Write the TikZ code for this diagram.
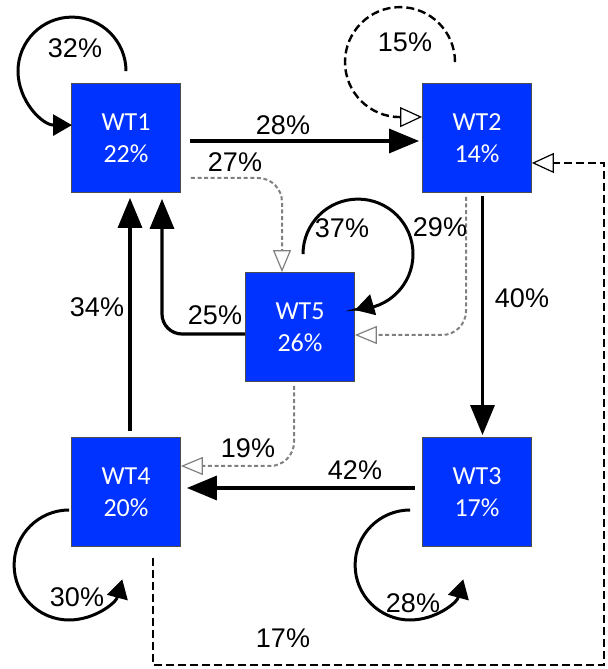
\documentclass[tikz,border=0pt]{standalone}
\usepackage{fontspec}
\setmainfont{Carlito}
\newfontfamily\labelfont{Liberation Sans}
\usetikzlibrary{arrows.meta}
\definecolor{wtblue}{RGB}{0,51,255}

\begin{document}
\begin{tikzpicture}[x=0.5pt,y=0.5pt,
    box/.style={draw=black!70,fill=wtblue,text=white,minimum size=54.5pt,inner sep=0pt,
        align=center,font=\fontsize{13}{16}\selectfont},
    pct/.style={font=\labelfont\fontsize{13.5}{16}\selectfont,inner sep=0pt},
    flow/.style={line width=1.6pt,-{Triangle[length=15pt,width=12pt]}},
    selfloop/.style={line width=1.5pt,-{Triangle[length=9.5pt,width=10.5pt]}},
    hint/.style={black!50,line width=1pt,dash pattern=on 2pt off 1.3pt,rounded corners=12pt,
        -{Triangle[open,length=11pt,width=9pt,line width=0.6pt]}},
    back/.style={line width=1.2pt,dash pattern=on 4pt off 2pt,
        -{Triangle[open,length=11pt,width=10pt,line width=0.6pt]}}]
    \useasboundingbox (0,0) rectangle (607,669);

    %% wells
    \node (wt1) at (126,531) [box] {WT1\\22\%};
    \node (wt2) at (477,531) [box] {WT2\\14\%};
    \node (wt5) at (300,342) [box] {WT5\\26\%};
    \node (wt4) at (126,177) [box] {WT4\\20\%};
    \node (wt3) at (477,177) [box] {WT3\\17\%};
    \coordinate (rim) at (604,4);

    %% self loops
    \draw[selfloop] ([yshift=6pt]wt1.north) arc[start angle=0,end angle=270,radius=27pt];
    \draw[back] ([xshift=-11pt,yshift=10.5pt]wt2.north) arc[start angle=0,end angle=270,radius=27.5pt]
        -- ([yshift=10.5pt]wt2.west);
    \draw[selfloop] ([xshift=1.5pt,yshift=9pt]wt5.north) arc[start angle=180,end angle=-90,radius=27.5pt]
        -- ([yshift=8.5pt]wt5.east);
    \draw[selfloop] ([xshift=-6pt,yshift=-9pt]wt3.west) arc[start angle=90,end angle=345,radius=27.5pt];
    \draw[selfloop] ([xshift=-1pt,yshift=-9pt]wt4.west) arc[start angle=90,end angle=345,radius=27.5pt];

    %% solid flows
    \draw[flow,shorten <=4.5pt,shorten >=1.5pt] ([yshift=-1.5pt]wt1.east) -- ([yshift=-1.5pt]wt2.west);
    \draw[flow,shorten <=1.5pt,shorten >=1pt] ([xshift=2.75pt]wt2.south) -- ([xshift=2.75pt]wt3.north);
    \draw[flow,shorten <=3.5pt,shorten >=3pt] ([yshift=2pt]wt3.west) -- ([yshift=2pt]wt4.east);
    \draw[flow,shorten <=3pt,shorten >=2.5pt] ([xshift=2pt]wt4.north) -- ([xshift=2pt]wt1.south);
    \draw[flow,rounded corners=10pt,shorten >=3pt] ([yshift=-3.5pt]wt5.west) -| ([xshift=18pt]wt1.south);

    %% dotted flows
    \draw[hint] ([xshift=5pt,yshift=-20pt]wt1.east) -| ([xshift=-9pt]wt5.north);
    \draw[hint] ([xshift=-5.5pt,yshift=-2pt]wt2.south) |- ([yshift=-4pt]wt5.east);
    \draw[hint] ([xshift=-3pt,yshift=-2pt]wt5.south) |- ([yshift=13pt]wt4.east);

    %% dashed flow round the outside
    \draw[back] ([xshift=13.5pt,yshift=-5.5pt]wt4.south) |- (rim) |- ([yshift=-12.5pt]wt2.east);

    %% percentages
    \node (p11) at (75,621) [pct] {32\%};
    \node (p12) at (283,544) [pct] {28\%};
    \node (p15) at (235,507) [pct] {27\%};
    \node (p22) at (405,627) [pct] {15\%};
    \node (p23) at (522,371) [pct] {40\%};
    \node (p25) at (440,442) [pct] {29\%};
    \node (p55) at (342,441) [pct] {37\%};
    \node (p51) at (215,354) [pct] {25\%};
    \node (p41) at (97,362) [pct] {34\%};
    \node (p54) at (248,221) [pct] {19\%};
    \node (p34) at (355,199) [pct] {42\%};
    \node (p33) at (413,66) [pct] {28\%};
    \node (p44) at (77,72) [pct] {30\%};
    \node (p42) at (283,31) [pct] {17\%};
\end{tikzpicture}
\end{document}
